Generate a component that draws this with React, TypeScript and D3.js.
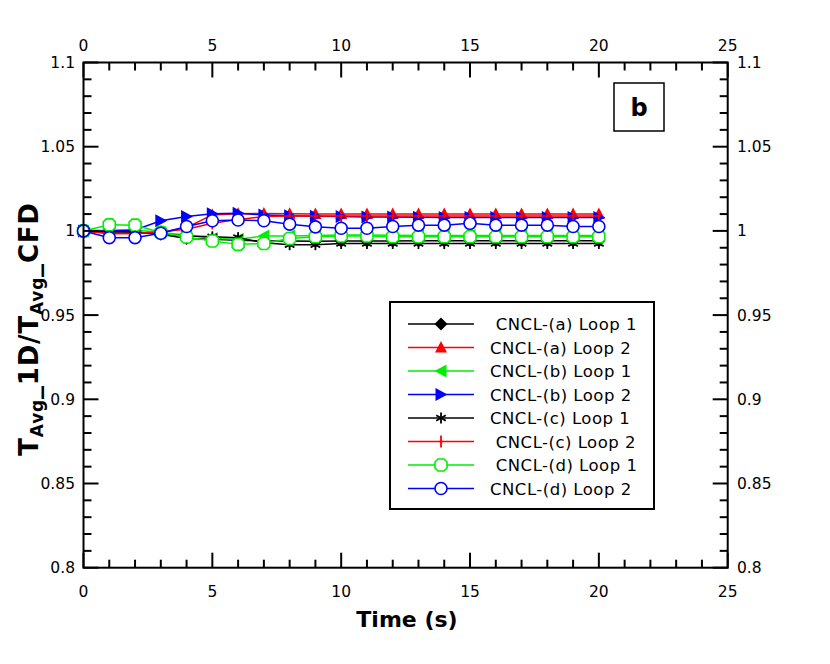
import React from "react";
import * as d3 from "d3";

const times = [0, 1, 2, 3, 4, 5, 6, 7, 8, 9, 10, 11, 12, 13, 14, 15, 16, 17, 18, 19, 20];
const aLoop1 = [1.0, 0.9995, 0.9993, 0.998, 0.9955, 0.995, 0.9945, 0.994, 0.994, 0.9938, 0.994, 0.994, 0.994, 0.9942, 0.9942, 0.9942, 0.9942, 0.9942, 0.9942, 0.9942, 0.9942];
const aLoop2 = [1.0, 0.9985, 0.9985, 0.999, 1.002, 1.0095, 1.0102, 1.0103, 1.0102, 1.0101, 1.0101, 1.0101, 1.0101, 1.0101, 1.0101, 1.0101, 1.0101, 1.0101, 1.0101, 1.0101, 1.0101];
const bLoop1 = [1.0, 1.0005, 1.0005, 0.999, 0.9975, 0.9955, 0.995, 0.997, 0.997, 0.9972, 0.9975, 0.9975, 0.9974, 0.9973, 0.9972, 0.9972, 0.9972, 0.9972, 0.9972, 0.9972, 0.9972];
const bLoop2 = [1.0, 1.0, 1.0005, 1.006, 1.0085, 1.0102, 1.0105, 1.0095, 1.009, 1.0087, 1.0085, 1.0083, 1.0082, 1.0081, 1.008, 1.008, 1.008, 1.008, 1.008, 1.008, 1.008];
const cLoop1 = [1.0, 0.9995, 0.9993, 0.998, 0.997, 0.9965, 0.996, 0.993, 0.9918, 0.9918, 0.9925, 0.9925, 0.9925, 0.9925, 0.9925, 0.9925, 0.9925, 0.9925, 0.9925, 0.9925, 0.9925];
const cLoop2 = [1.0, 0.9985, 0.9985, 0.9995, 1.001, 1.0045, 1.0068, 1.0085, 1.0088, 1.0088, 1.0088, 1.0088, 1.0088, 1.0088, 1.0088, 1.0088, 1.0088, 1.0088, 1.0088, 1.0088, 1.0088];
const dLoop1 = [1.0, 1.0036, 1.0034, 0.999, 0.9964, 0.994, 0.992, 0.9925, 0.9955, 0.9965, 0.997, 0.997, 0.9965, 0.9965, 0.9965, 0.9965, 0.9965, 0.9965, 0.9965, 0.9965, 0.9965];
const dLoop2 = [1.0, 0.996, 0.996, 0.9986, 1.0026, 1.006, 1.0065, 1.006, 1.004, 1.0024, 1.0016, 1.0016, 1.0026, 1.0034, 1.0034, 1.0045, 1.0034, 1.0034, 1.0034, 1.0026, 1.0026];

const seriesNames = [
  " CNCL-(a) Loop 1",
  "CNCL-(a) Loop 2",
  "CNCL-(b) Loop 1",
  "CNCL-(b) Loop 2",
  "CNCL-(c) Loop 1",
  " CNCL-(c) Loop 2",
  " CNCL-(d) Loop 1",
  "CNCL-(d) Loop 2",
];
const seriesValues = [aLoop1, aLoop2, bLoop1, bLoop2, cLoop1, cLoop2, dLoop1, dLoop2];
const seriesColors = ["#000000", "#ff0000", "#00ee00", "#0000ff", "#000000", "#ff0000", "#00ee00", "#0000ff"];
const seriesMarkers = ["diamond", "triangleUp", "triangleLeft", "triangleRight", "asterisk", "plus", "octagon", "circle"];

const xTicksMajor = [0, 5, 10, 15, 20, 25];
const yTicksMajor = [0.8, 0.85, 0.9, 0.95, 1, 1.05, 1.1];
const yTickLabels = ["0.8", "0.85", "0.9", "0.95", "1", "1.05", "1.1"];

const W = 830;
const H = 664;
const L = 83.5, R = 727.7, T = 62.5, B = 567.7;
const FONT = "'DejaVu Sans', Verdana, sans-serif";

function Marker({ type, x, y, color }: { type: string; x: number; y: number; color: string }) {
  const t = `translate(${x},${y})`;
  switch (type) {
    case "diamond":
      return <path transform={t} d="M0,-6.5L6.5,0L0,6.5L-6.5,0Z" fill={color} />;
    case "triangleUp":
      return <path transform={t} d="M0,-6.5L6,5L-6,5Z" fill={color} />;
    case "triangleLeft":
      return <path transform={t} d="M-6.5,0L5.5,-6.5L5.5,6.5Z" fill={color} />;
    case "triangleRight":
      return <path transform={t} d="M6.5,0L-5.5,-6.5L-5.5,6.5Z" fill={color} />;
    case "asterisk":
      return (
        <g transform={t} stroke={color} strokeWidth={1.8}>
          <line x1={0} y1={-5.5} x2={0} y2={5.5} />
          <line x1={-4.8} y1={-2.8} x2={4.8} y2={2.8} />
          <line x1={-4.8} y1={2.8} x2={4.8} y2={-2.8} />
        </g>
      );
    case "plus":
      return (
        <g transform={t} stroke={color} strokeWidth={1.8}>
          <line x1={0} y1={-6} x2={0} y2={6} />
          <line x1={-1.5} y1={0} x2={1.5} y2={0} />
        </g>
      );
    case "octagon":
      return (
        <path
          transform={t}
          d="M-3,-6L3,-6L6,-3L6,3L3,6L-3,6L-6,3L-6,-3Z"
          fill="#fff"
          stroke={color}
          strokeWidth={1.6}
        />
      );
    case "circle":
      return <circle cx={x} cy={y} r={6} fill="#fff" stroke={color} strokeWidth={1.6} />;
    default:
      return null;
  }
}

export default function App() {
  const x = d3.scaleLinear().domain([0, 25]).range([L, R]);
  const y = d3.scaleLinear().domain([0.8, 1.1]).range([B, T]);
  const line = d3
    .line<number>()
    .x((_, i) => x(times[i]))
    .y((d) => y(d));

  const xMinor = d3.range(0, 26, 1).filter((v) => v % 5 !== 0);
  const yMinor = d3.range(0, 31, 1).map((k) => 0.8 + k * 0.01).filter((_, k) => k % 5 !== 0);

  const legendRows = seriesNames.map((_, i) => 324 + i * 23.5);

  return (
    <svg width={W} height={H} style={{ position: "absolute", left: 0, top: 0, background: "#fff" }}>
      <rect x={0} y={0} width={W} height={H} fill="#fff" />
      {/* series */}
      {seriesValues.map((vals, i) => (
        <g key={i}>
          <path d={line(vals) || ""} fill="none" stroke={seriesColors[i]} strokeWidth={1.5} />
          {vals.map((v, j) => (
            <Marker key={j} type={seriesMarkers[i]} x={x(times[j])} y={y(v)} color={seriesColors[i]} />
          ))}
        </g>
      ))}

      {/* frame */}
      <rect x={L} y={T} width={R - L} height={B - T} fill="none" stroke="#000" strokeWidth={2} />

      {/* x ticks */}
      {xTicksMajor.map((v) => (
        <g key={"xm" + v}>
          <line x1={x(v)} x2={x(v)} y1={B} y2={B - 15} stroke="#000" strokeWidth={2} />
          <line x1={x(v)} x2={x(v)} y1={T} y2={T + 15} stroke="#000" strokeWidth={2} />
          <text x={x(v)} y={597} textAnchor="middle" fontFamily={FONT} fontSize={15.5}>{v}</text>
          <text x={x(v)} y={51} textAnchor="middle" fontFamily={FONT} fontSize={15.5}>{v}</text>
        </g>
      ))}
      {xMinor.map((v) => (
        <g key={"xn" + v}>
          <line x1={x(v)} x2={x(v)} y1={B} y2={B - 8} stroke="#000" strokeWidth={2} />
          <line x1={x(v)} x2={x(v)} y1={T} y2={T + 8} stroke="#000" strokeWidth={2} />
        </g>
      ))}

      {/* y ticks */}
      {yTicksMajor.map((v, i) => (
        <g key={"ym" + v}>
          <line x1={L} x2={L + 15} y1={y(v)} y2={y(v)} stroke="#000" strokeWidth={2} />
          <line x1={R} x2={R - 15} y1={y(v)} y2={y(v)} stroke="#000" strokeWidth={2} />
          <text x={75} y={y(v) + 5.5} textAnchor="end" fontFamily={FONT} fontSize={15.5}>{yTickLabels[i]}</text>
          <text x={737} y={y(v) + 5.5} textAnchor="start" fontFamily={FONT} fontSize={15.5}>{yTickLabels[i]}</text>
        </g>
      ))}
      {yMinor.map((v, i) => (
        <g key={"yn" + i}>
          <line x1={L} x2={L + 8} y1={y(v)} y2={y(v)} stroke="#000" strokeWidth={2} />
          <line x1={R} x2={R - 8} y1={y(v)} y2={y(v)} stroke="#000" strokeWidth={2} />
        </g>
      ))}

      {/* axis titles */}
      <text x={407} y={627} textAnchor="middle" fontFamily={FONT} fontWeight="bold" fontSize={22}>Time (s)</text>
      <text
        transform="translate(38,329) rotate(-90)"
        textAnchor="middle"
        fontFamily={FONT}
        fontWeight="bold"
        fontSize={26}
        letterSpacing={0.8}
      >
        T<tspan fontSize={17} dy={5}>Avg</tspan>
        <tspan dy={-5}>_1D/T</tspan>
        <tspan fontSize={17} dy={5}>Avg</tspan>
        <tspan dy={-5}>_CFD</tspan>
      </text>

      {/* b box */}
      <rect x={614} y={83} width={50} height={48} fill="#fff" stroke="#000" strokeWidth={1.5} />
      <text x={639} y={115.5} textAnchor="middle" fontFamily={FONT} fontWeight="bold" fontSize={24}>b</text>

      {/* legend */}
      <rect x={390} y={302} width={264} height={207} fill="#fff" stroke="#000" strokeWidth={2} />
      {seriesNames.map((name, i) => (
        <g key={"lg" + i}>
          <line x1={408} x2={474} y1={legendRows[i]} y2={legendRows[i]} stroke={seriesColors[i]} strokeWidth={1.5} />
          <Marker type={seriesMarkers[i]} x={441} y={legendRows[i]} color={seriesColors[i]} />
          <text
            x={490}
            y={legendRows[i] + 6}
            fontFamily={FONT}
            fontSize={16.5}
            letterSpacing={0.5}
            style={{ whiteSpace: "pre" }}
            xmlSpace="preserve"
          >
            {name}
          </text>
        </g>
      ))}
    </svg>
  );
}
